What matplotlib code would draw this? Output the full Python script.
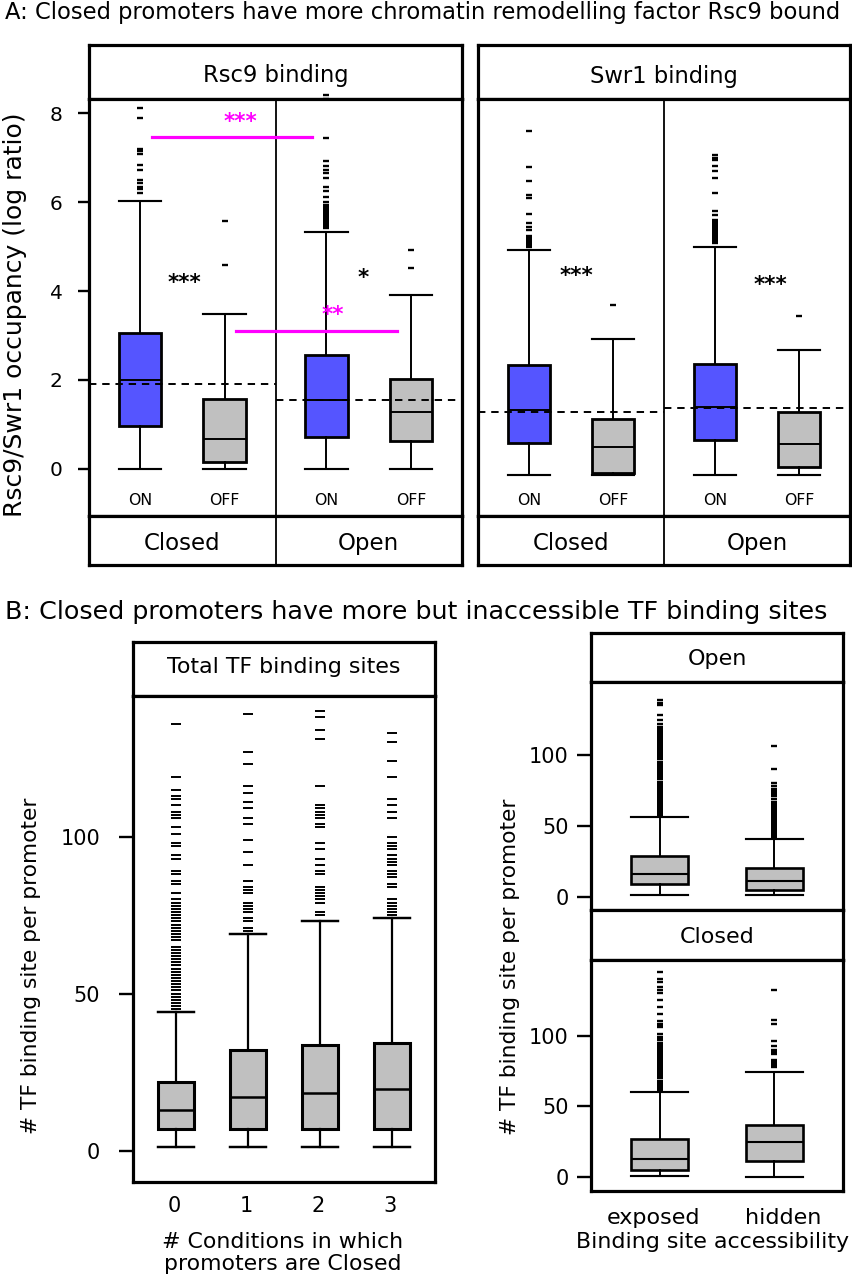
import matplotlib
matplotlib.use("Agg")
import matplotlib.pyplot as plt
from matplotlib import transforms

# ======================= DATA =======================
# ---- Panel A : Rsc9 / Swr1 occupancy (log ratio) ----
a_status = ["ON", "OFF", "ON", "OFF"]
a_state = ["Closed", "Open"]
a_fill = ["#5555ff", "#c0c0c0", "#5555ff", "#c0c0c0"]

rsc9_q1 = [0.97, 0.16, 0.72, 0.63]
rsc9_med = [2.00, 0.67, 1.54, 1.27]
rsc9_q3 = [3.06, 1.58, 2.57, 2.02]
rsc9_lo = [0.00, 0.00, 0.00, 0.00]
rsc9_hi = [6.02, 3.49, 5.32, 3.90]
rsc9_out_closed_on = [8.11, 7.89, 7.20, 7.14, 7.08, 6.84, 6.72, 6.50, 6.43, 6.35, 6.30, 6.20]
rsc9_out_closed_off = [5.57, 4.58]
rsc9_out_open_on = [8.40, 8.32, 7.45, 6.93, 6.82, 6.73, 6.65, 6.54, 6.35, 6.24, 6.12, 6.01,
                    5.94, 5.90, 5.86, 5.82, 5.78, 5.74, 5.70, 5.66, 5.62, 5.58, 5.54, 5.50,
                    5.46, 5.42]
rsc9_out_open_off = [4.93, 4.52]
rsc9_mean = [1.91, 1.54]

swr1_q1 = [0.58, -0.10, 0.64, 0.04]
swr1_med = [1.33, 0.49, 1.39, 0.56]
swr1_q3 = [2.34, 1.13, 2.36, 1.27]
swr1_lo = [-0.14, -0.14, -0.14, -0.14]
swr1_hi = [4.92, 2.93, 4.98, 2.68]
swr1_out_closed_on = [7.59, 6.79, 6.48, 6.16, 6.09, 5.73, 5.53, 5.45, 5.38,
                      5.23, 5.19, 5.15, 5.11, 5.07, 5.03, 4.99]
swr1_out_closed_off = [3.69]
swr1_out_open_on = [7.06, 7.00, 6.95, 6.82, 6.70, 6.54, 6.20, 5.79, 5.71,
                    5.60, 5.56, 5.52, 5.48, 5.44, 5.40, 5.36, 5.32, 5.28, 5.24,
                    5.20, 5.16, 5.12, 5.08]
swr1_out_open_off = [3.45]
swr1_mean = [1.28, 1.38]

# ---- Panel B (left): total TF binding sites vs # closed conditions ----
b_conditions = ["0", "1", "2", "3"]
b_q1 = [7, 7, 7, 7]
b_med = [13, 17, 18.5, 19.5]
b_q3 = [22, 32, 33.5, 34.3]
b_lo = [1, 1, 1, 1]
b_hi = [44, 69, 73, 74]
b_out_0 = [45, 46, 47, 48, 49, 50, 51, 52, 53, 54, 55, 56, 57, 58, 59, 60, 61, 62, 63,
           64, 65, 67, 68, 69, 70, 71, 72, 73, 74, 75, 76, 77, 78, 79, 80, 82, 85, 86,
           88, 89, 93, 94, 97, 98, 101, 103, 106, 107, 108, 110, 112, 113, 115, 119, 136]
b_out_1 = [70, 71, 73, 74, 76, 77, 78, 79, 82, 83, 84, 86, 91, 95, 99, 104, 106, 109,
           111, 114, 116, 123, 127, 139]
b_out_2 = [75, 76, 79, 80, 81, 82, 83, 84, 88, 89, 91, 93, 96, 98, 103, 104, 106, 107,
           108, 109, 110, 116, 131, 134, 138, 140]
b_out_3 = [75, 76, 77, 78, 79, 80, 84, 85, 87, 88, 89, 91, 92, 93, 94, 96, 97, 98, 100,
           106, 108, 110, 112, 119, 124, 130, 133]

# ---- Panel B (right): exposed / hidden sites in Open and Closed promoters ----
acc_labels = ["exposed", "hidden"]
open_q1 = [9, 5]
open_med = [16, 11]
open_q3 = [29, 20]
open_lo = [1, 1]
open_hi = [56, 41]
open_out_exposed = [57, 58, 59, 60, 61, 62, 63, 64, 65, 66, 67, 68, 69, 70, 71, 72, 73,
                    74, 75, 76, 77, 78, 79, 80, 81, 83, 84, 85, 86, 87, 88, 89, 90, 91,
                    92, 93, 94, 95, 97, 98, 99, 101, 102, 103, 104, 105, 106, 107, 108,
                    109, 110, 111, 112, 113, 114, 115, 116, 117, 118, 119, 120, 122,
                    125, 128, 135, 137, 139]
open_out_hidden = [42, 43, 44, 45, 46, 47, 48, 49, 50, 51, 52, 53, 54, 55, 56, 57, 58,
                   59, 60, 61, 62, 63, 64, 65, 66, 67, 69, 71, 72, 73, 74, 75, 76, 78,
                   80, 90, 106]
closed_q1 = [5, 11.5]
closed_med = [13, 25]
closed_q3 = [27, 37]
closed_lo = [1, 0]
closed_hi = [60, 74]
closed_out_exposed = [61, 62, 63, 64, 65, 66, 67, 68, 70, 71, 72, 73, 74, 75, 76, 77,
                      78, 79, 80, 81, 82, 83, 84, 85, 86, 87, 88, 89, 90, 91, 92, 93,
                      94, 95, 97, 98, 99, 101, 106, 107, 108, 110, 115, 120, 125, 130,
                      132, 134, 138, 140, 145]
closed_out_hidden = [78, 79, 80, 81, 82, 83, 87, 88, 89, 90, 93, 96, 108, 111, 132]

# ======================= FIGURE =======================
W, H = 852, 1280
plt.rcParams["font.family"] = ["DejaVu Sans"]
fig = plt.figure(figsize=(W / 100, H / 100), dpi=100)
fig.patch.set_facecolor("white")

FRAME = 2.3


def px_axes(x0, y0, x1, y1):
    return fig.add_axes([x0 / W, 1 - y1 / H, (x1 - x0) / W, (y1 - y0) / H])


def frame(ax):
    for s in ax.spines.values():
        s.set_linewidth(FRAME)
        s.set_color("black")


def ftext(x, y, s, **kw):
    return fig.text(x / W, 1 - y / H, s, **kw)


def strip(x0, y0, x1, y1):
    ax = px_axes(x0, y0, x1, y1)
    ax.set_xticks([])
    ax.set_yticks([])
    frame(ax)
    return ax


def boxes(ax, pos, q1, med, q3, lo, hi, fliers, fills, width, fms, fmew, blw, wlw, mlw):
    stats = [dict(med=med[i], q1=q1[i], q3=q3[i], whislo=lo[i], whishi=hi[i],
                  fliers=fliers[i]) for i in range(len(pos))]
    bp = ax.bxp(stats, positions=pos, widths=width, capwidths=width,
                patch_artist=True, manage_ticks=False,
                boxprops=dict(linewidth=blw, edgecolor="black"),
                whiskerprops=dict(linewidth=wlw, color="black", linestyle="-"),
                capprops=dict(linewidth=wlw * 1.1, color="black"),
                medianprops=dict(linewidth=mlw, color="black"),
                flierprops=dict(marker="_", markersize=fms, markeredgewidth=fmew,
                                markeredgecolor="black", linestyle="none"))
    for p, c in zip(bp["boxes"], fills):
        p.set_facecolor(c)
    return bp


# ---------------- Panel A ----------------
ftext(5, 18.5, "A: Closed promoters have more chromatin remodelling factor Rsc9 bound",
      fontsize=16.3, ha="left", va="baseline")

a_pos = [1, 2, 3.2, 4.2]
A_YLIM = (-1.06, 8.32)


def panel_a(x0, x1, title, title_base, q1, med, q3, lo, hi, fl, mean, show_y):
    strip(x0, 45, x1, 99)
    ftext((x0 + x1) / 2, title_base, title, fontsize=16.3, ha="center", va="baseline")
    ax = px_axes(x0, 99, x1, 516)
    frame(ax)
    ax.set_xlim(0.4, 4.8)
    ax.set_ylim(*A_YLIM)
    ax.set_xticks([])
    bp = boxes(ax, a_pos, q1, med, q3, lo, hi, fl, a_fill, 0.5,
               5.0, 1.7, 2.0, 1.4, 1.4)
    for f in bp["fliers"]:
        f.set_clip_on(False)
    ax.axvline(2.6, color="black", lw=1.3)
    ax.hlines(mean[0], 0.4, 2.6, colors="black", linestyles=(0, (3.8, 3.0)), lw=1.4, zorder=5)
    ax.hlines(mean[1], 2.6, 4.8, colors="black", linestyles=(0, (3.8, 3.0)), lw=1.4, zorder=5)
    for p, s in zip(a_pos, a_status):
        ax.text(p, -0.81, s, ha="center", va="baseline", fontsize=11.3)
    if show_y:
        ax.set_yticks([0, 2, 4, 6, 8])
        ax.tick_params(axis="y", direction="out", length=7.9, width=1.7,
                       pad=11, labelsize=14.5)
    else:
        ax.set_yticks([])
    bt = strip(x0, 516, x1, 565)
    bt.set_xlim(0.4, 4.8)
    bt.axvline(2.6, color="black", lw=1.3)
    tr = transforms.blended_transform_factory(bt.transData, fig.transFigure)
    for xc, s in zip([1.5, 3.7], a_state):
        bt.text(xc, 1 - 550 / H, s, transform=tr, ha="center", va="baseline", fontsize=16.5)
    return ax


ax_r = panel_a(89, 462, "Rsc9 binding", 81.7, rsc9_q1, rsc9_med, rsc9_q3, rsc9_lo, rsc9_hi,
               [rsc9_out_closed_on, rsc9_out_closed_off, rsc9_out_open_on, rsc9_out_open_off],
               rsc9_mean, True)
ax_s = panel_a(478, 850, "Swr1 binding", 83, swr1_q1, swr1_med, swr1_q3, swr1_lo, swr1_hi,
               [swr1_out_closed_on, swr1_out_closed_off, swr1_out_open_on, swr1_out_open_off],
               swr1_mean, False)

# significance marks
ax_r.text(1.52, 4.04, "***", ha="center", va="baseline", fontsize=15.5, fontweight="bold")
ax_r.text(3.64, 4.16, "*", ha="center", va="baseline", fontsize=15.5, fontweight="bold")
ax_s.text(1.57, 4.20, "***", ha="center", va="baseline", fontsize=15.5, fontweight="bold")
ax_s.text(3.86, 4.01, "***", ha="center", va="baseline", fontsize=15.5, fontweight="bold")
ax_r.plot([1.14, 3.03], [7.46, 7.46], color="#ff00ff", lw=2.3, zorder=6)
ax_r.text(2.19, 7.66, "***", color="#ff00ff", ha="center", va="baseline",
          fontsize=15.5, fontweight="bold")
ax_r.plot([2.13, 4.03], [3.11, 3.11], color="#ff00ff", lw=2.3, zorder=6)
ax_r.text(3.28, 3.32, "**", color="#ff00ff", ha="center", va="baseline",
          fontsize=15.5, fontweight="bold")

ftext(15, 315, "Rsc9/Swr1 occupancy (log ratio)", rotation=90, ha="center", va="center",
      fontsize=18)

# ---------------- Panel B ----------------
ftext(5, 619.3, "B: Closed promoters have more but inaccessible TF binding sites",
      fontsize=18.3, ha="left", va="baseline")

# left: total TF binding sites
strip(133, 641.7, 435, 696)
ftext(284, 673.3, "Total TF binding sites", fontsize=15.9, ha="center", va="baseline")
axb = px_axes(133, 696, 435, 1181.7)
frame(axb)
axb.set_xlim(0.4, 4.6)
axb.set_ylim(-9.9, 144.8)
b_pos = [1, 2, 3, 4]
boxes(axb, b_pos, b_q1, b_med, b_q3, b_lo, b_hi, [b_out_0, b_out_1, b_out_2, b_out_3],
      ["#c0c0c0"] * 4, 0.5, 6.8, 1.4, 2.2, 1.6, 1.8)
axb.set_xticks([])
axb.set_yticks([0, 50, 100])
axb.tick_params(axis="y", direction="out", length=10, width=1.7, pad=13.5, labelsize=15)
trb = transforms.blended_transform_factory(axb.transData, fig.transFigure)
for p, s in zip(b_pos, b_conditions):
    axb.text(p - 0.03, 1 - 1211.7 / H, s, transform=trb, ha="center", va="baseline",
             fontsize=15)
ftext(283, 1248, "# Conditions in which", ha="center", va="baseline", fontsize=15.8)
ftext(283, 1270, "promoters are Closed", ha="center", va="baseline", fontsize=15.8)
ftext(31, 966, "# TF binding site per promoter", rotation=90, ha="center", va="center",
      fontsize=15.7)

# right: exposed / hidden
r_pos = [1, 2]


def panel_br(ys, ps, pe, label, label_base, q1, med, q3, lo, hi, fl, ylim):
    strip(591, ys, 843.3, ps)
    ftext(717, label_base, label, fontsize=16, ha="center", va="baseline")
    ax = px_axes(591, ps, 843.3, pe)
    frame(ax)
    ax.set_xlim(0.4, 2.6)
    ax.set_ylim(*ylim)
    boxes(ax, r_pos, q1, med, q3, lo, hi, fl, ["#c0c0c0"] * 2, 0.5, 4.6, 1.7, 1.9, 1.4, 1.5)
    ax.set_xticks([])
    ax.set_yticks([0, 50, 100])
    ax.tick_params(axis="y", direction="out", length=10, width=1.7, pad=6, labelsize=15)
    return ax


panel_br(633.3, 681.7, 910, "Open", 665, open_q1, open_med, open_q3, open_lo, open_hi,
         [open_out_exposed, open_out_hidden], (-9.4, 151.7))
panel_br(910, 960, 1190.7, "Closed", 942.7, closed_q1, closed_med, closed_q3,
         closed_lo, closed_hi, [closed_out_exposed, closed_out_hidden], (-9.5, 153.4))
ftext(653, 1224, acc_labels[0], ha="center", va="baseline", fontsize=16)
ftext(783, 1224, acc_labels[1], ha="center", va="baseline", fontsize=16)
ftext(712.5, 1248, "Binding site accessibility", ha="center", va="baseline", fontsize=15.9)
ftext(510, 967, "# TF binding site per promoter", rotation=90, ha="center", va="center",
      fontsize=15.7)

fig.savefig("out.png", dpi=100, facecolor="white")
